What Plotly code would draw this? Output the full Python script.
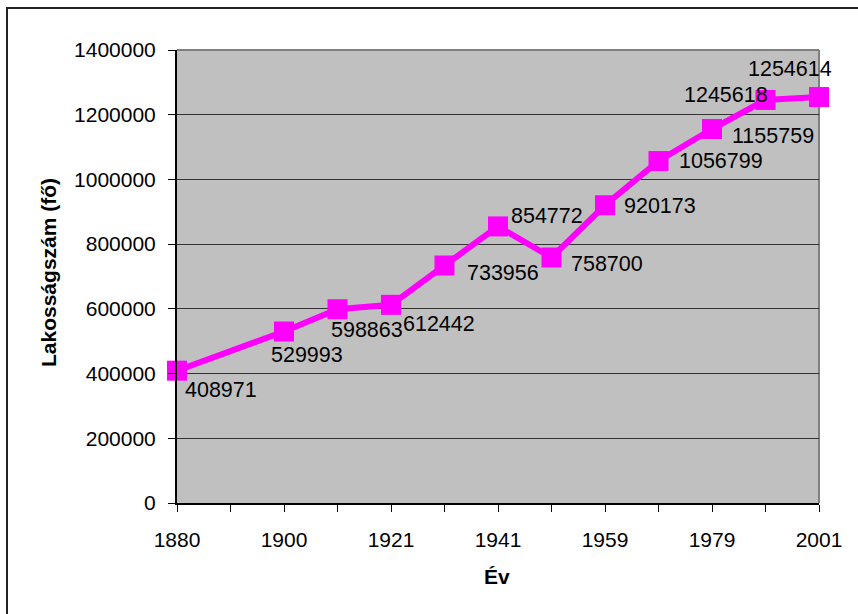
import plotly.graph_objects as go

# Census years on the category axis (1890 has no recorded value)
years = ["1880", "1890", "1900", "1910", "1921", "1930", "1941",
         "1949", "1959", "1970", "1979", "1990", "2001"]
population = [408971, None, 529993, 598863, 612442, 733956, 854772,
              758700, 920173, 1056799, 1155759, 1245618, 1254614]
labelled_years = ["1880", "1900", "1921", "1941", "1959", "1979", "2001"]
y_ticks = [0, 200000, 400000, 600000, 800000, 1000000, 1200000, 1400000]

# pixel offsets of each value label from its marker (x, y; y up)
label_offsets = [(44, -19), None, (23, -23), (29, -21), (48, -19), (58, -7),
                 (49, 10), (55, -6), (55, -1), (62, 0), (61, -7), (-40, 5),
                 (-29, 28)]

pos = list(range(len(years)))
FONT = "Liberation Sans, Arial, sans-serif"
MAGENTA = "#FF00FF"

fig = go.Figure()
fig.add_trace(go.Scatter(
    x=pos, y=population, mode="lines+markers", connectgaps=True,
    line=dict(color=MAGENTA, width=6),
    marker=dict(symbol="square", size=20, color=MAGENTA),
    cliponaxis=False, hoverinfo="skip", showlegend=False,
))

annotations = []
for p, v, off in zip(pos, population, label_offsets):
    if v is None:
        continue
    annotations.append(dict(
        x=p, y=v, xref="x", yref="y", text=str(v), showarrow=False,
        xanchor="center", yanchor="middle", xshift=off[0], yshift=off[1],
        font=dict(family=FONT, size=21.5, color="#000000"),
    ))

# axis titles
annotations.append(dict(
    x=(497 - 177) / 642, y=(503 - 576) / 453, xref="paper", yref="paper",
    text="<b>Év</b>", showarrow=False, xanchor="center", yanchor="middle",
    font=dict(family=FONT, size=21, color="#000000"),
))
annotations.append(dict(
    x=(48 - 177) / 642, y=(503 - 273) / 453, xref="paper", yref="paper",
    text="<b>Lakosságszám (fő)</b>", showarrow=False, textangle=-90,
    xanchor="center", yanchor="middle",
    font=dict(family=FONT, size=21, color="#000000"),
))

L, R, T, B = 177, 39, 50, 111
W, H = 858, 614
pw, ph = W - L - R, H - T - B

shapes = [
    # grey top and right frame of the plot area
    dict(type="line", xref="paper", yref="paper", x0=0, x1=1, y0=1, y1=1,
         line=dict(color="#808080", width=2), layer="below"),
    dict(type="line", xref="paper", yref="paper", x0=1, x1=1, y0=0, y1=1,
         line=dict(color="#808080", width=2), layer="below"),
    # outer chart border
    dict(type="path", xref="paper", yref="paper",
         path=f"M {(7 - L) / pw},{(T + ph - 620) / ph} L {(7 - L) / pw},{(T + ph - 8) / ph} "
              f"L {(860 - L) / pw},{(T + ph - 8) / ph}",
         line=dict(color="#222222", width=2)),
]

fig.update_layout(
    width=W, height=H,
    margin=dict(l=L, r=R, t=T, b=B, pad=0),
    paper_bgcolor="#FFFFFF", plot_bgcolor="#C0C0C0",
    font=dict(family=FONT, size=21, color="#000000"),
    annotations=annotations, shapes=shapes,
    xaxis=dict(
        range=[0, len(years) - 1], tickmode="array",
        tickvals=[years.index(y) for y in labelled_years], ticktext=labelled_years,
        ticks="outside", ticklen=7, tickcolor="#000000", tickwidth=1,
        minor=dict(tickmode="array", tickvals=pos, ticks="outside", ticklen=7,
                   tickcolor="#000000", tickwidth=1, showgrid=False),
        showline=True, linecolor="#000000", linewidth=2, showgrid=False,
        zeroline=False, ticklabelstandoff=10,
        tickfont=dict(family=FONT, size=21),
    ),
    yaxis=dict(
        range=[0, 1400000], tickmode="array", tickvals=y_ticks,
        ticktext=[str(v) for v in y_ticks],
        ticks="outside", ticklen=7, tickcolor="#000000", tickwidth=1,
        showline=True, linecolor="#000000", linewidth=2,
        showgrid=True, gridcolor="#333333", gridwidth=1, zeroline=False,
        ticklabelstandoff=8, tickfont=dict(family=FONT, size=21),
    ),
)

fig.write_html("out.html")
